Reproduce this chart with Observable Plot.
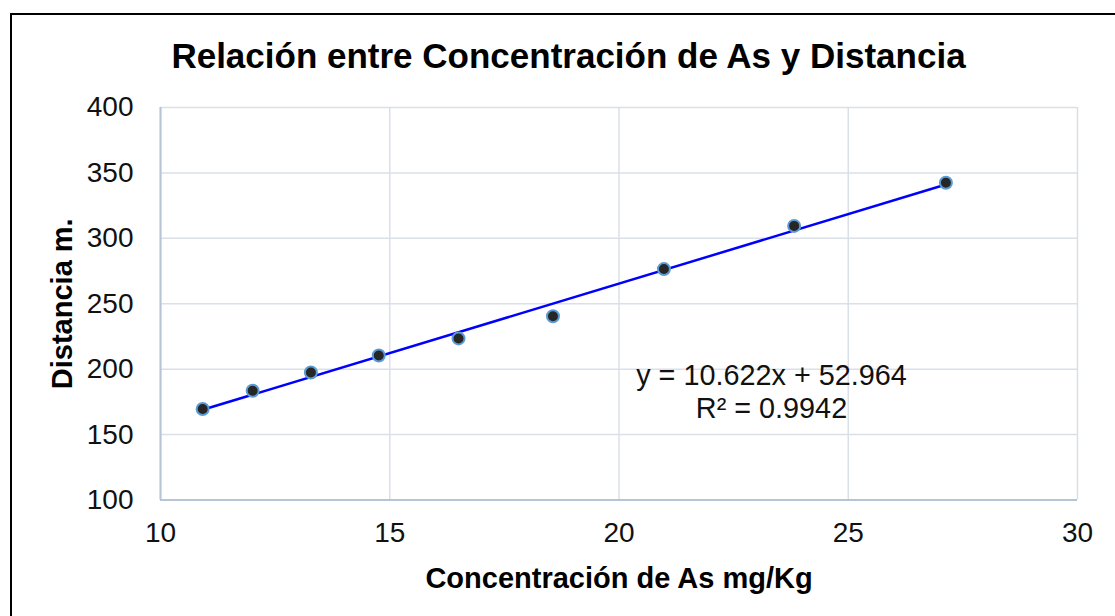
<!DOCTYPE html>
<html>
<head>
<meta charset="utf-8">
<script src="https://cdn.jsdelivr.net/npm/d3@7"></script>
<script src="https://cdn.jsdelivr.net/npm/@observablehq/plot@0.6"></script>
<style>
  html, body { margin: 0; padding: 0; background: #fff; overflow: hidden; }
  #wrap { position: relative; width: 1115px; height: 616px; overflow: hidden; font-family: "Liberation Sans", Arial, sans-serif; }
  #frame { position: absolute; left: 10px; top: 13px; width: 1130px; height: 640px; border: 2px solid #000; box-sizing: border-box; }
  #title { position: absolute; left: 0; top: 36px; width: 1137px; text-align: center; font-weight: bold; font-size: 35px; line-height: 40px; color: #000; }
  #chart { position: absolute; left: 0; top: 0; }
</style>
</head>
<body>
<div id="wrap">
  <div id="frame"></div>
  <div id="chart"></div>
  <div id="title">Relación entre Concentración de As y Distancia</div>
</div>
<script>
const concentracion = [10.92, 12.01, 13.28, 14.76, 16.5, 18.56, 20.98, 23.82, 27.13];
const distancia = [169.5, 183.5, 197.5, 210.5, 223.5, 240.5, 276.5, 309.5, 342.5];
const xTicks = [10, 15, 20, 25, 30];
const yTicks = [100, 150, 200, 250, 300, 350, 400];
const slope = 10.622;
const intercept = 52.964;
const r2 = 0.9942;
const xLabel = "Concentración de As mg/Kg";
const yLabel = "Distancia m.";

const data = concentracion.map((x, i) => ({x, y: distancia[i]}));
const trend = d3.extent(concentracion).map(x => ({x, y: slope * x + intercept}));
const eqLines = [`y = ${slope}x + ${intercept}`, `R² = ${r2}`];

const chart = Plot.plot({
  width: 1115,
  height: 616,
  marginLeft: 160,
  marginRight: 38,
  marginTop: 107,
  marginBottom: 116.5,
  style: {fontFamily: "'Liberation Sans', Arial, sans-serif", fontSize: "28px", color: "#111", background: "transparent", overflow: "visible"},
  x: {domain: [10, 30], ticks: xTicks, tickSize: 0, tickPadding: 22, label: null},
  y: {domain: [100, 400], ticks: yTicks, tickSize: 0, tickPadding: 27, label: null},
  marks: [
    Plot.gridX(xTicks, {stroke: "#dadfe8", strokeOpacity: 1, strokeWidth: 1.5}),
    Plot.gridY(yTicks, {stroke: "#dadfe8", strokeOpacity: 1, strokeWidth: 1.5}),
    Plot.ruleX([10], {stroke: "#b7c3d7", strokeWidth: 2}),
    Plot.ruleY([100], {stroke: "#b7c3d7", strokeWidth: 2}),
    Plot.line(trend, {x: "x", y: "y", stroke: "#0000ff", strokeWidth: 2.5}),
    Plot.dot(data, {x: "x", y: "y", r: 6, fill: "#262626", stroke: "#5b9bd5", strokeWidth: 2}),
    Plot.text([eqLines.join("\n")], {frameAnchor: "top-left", dx: 611, dy: 255, textAnchor: "middle", lineAnchor: "top", lineHeight: 1.12, fontSize: 28.8, fill: "#111"}),
    Plot.text([xLabel], {frameAnchor: "bottom", dy: 79, lineAnchor: "middle", fontWeight: "bold", fontSize: 29, fill: "#000"}),
    Plot.text([yLabel], {frameAnchor: "left", dx: -98, rotate: -90, textAnchor: "middle", lineAnchor: "middle", fontWeight: "bold", fontSize: 29, fill: "#000"})
  ]
});
document.getElementById("chart").appendChild(chart);
</script>
</body>
</html>
